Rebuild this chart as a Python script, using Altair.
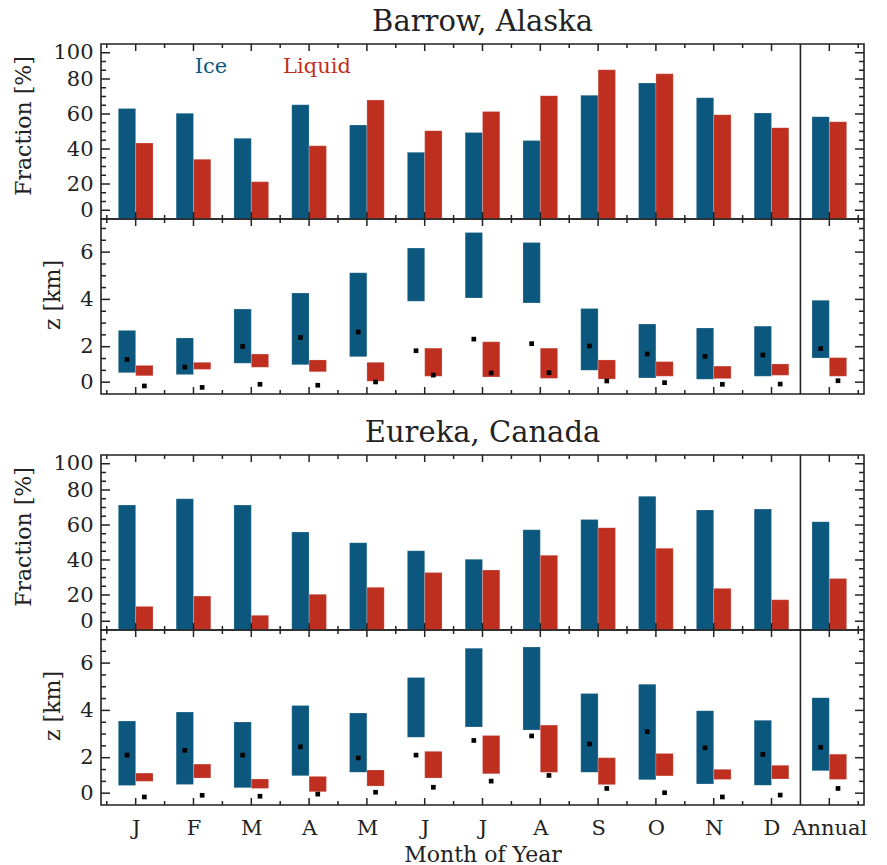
import altair as alt
import pandas as pd

# ---------------- data ----------------
months = ["J", "F", "M", "A", "M", "J", "J", "A", "S", "O", "N", "D", "Annual"]

barrow_ice_frac = [63.2, 60.4, 46.1, 65.3, 53.7, 38.1, 49.5, 44.8, 70.7, 77.7, 69.3, 60.6, 58.5]
barrow_liq_frac = [43.4, 34.1, 21.3, 41.9, 68.0, 50.5, 61.5, 70.5, 85.3, 83.0, 59.6, 52.2, 55.6]
eureka_ice_frac = [71.4, 75.0, 71.4, 56.0, 49.9, 45.3, 40.4, 57.3, 63.2, 76.4, 68.6, 69.1, 61.9]
eureka_liq_frac = [13.5, 19.4, 8.4, 20.4, 24.4, 32.8, 34.3, 42.7, 58.5, 46.7, 23.8, 17.3, 29.5]

barrow_ice_top = [2.69, 2.37, 3.59, 4.27, 5.13, 6.17, 6.83, 6.41, 3.62, 2.96, 2.79, 2.87, 3.96]
barrow_ice_bot = [0.90, 0.82, 1.30, 1.24, 1.58, 3.92, 4.06, 3.85, 1.00, 0.68, 0.62, 0.75, 1.52]
barrow_ice_mark = [1.46, 1.14, 2.01, 2.39, 2.62, 1.83, 2.32, 2.13, 2.03, 1.69, 1.59, 1.65, 1.92]
barrow_liq_top = [1.21, 1.34, 1.69, 1.44, 1.34, 1.94, 2.21, 1.94, 1.44, 1.37, 1.18, 1.27, 1.54]
barrow_liq_bot = [0.77, 1.04, 1.13, 0.94, 0.54, 0.75, 0.72, 0.66, 0.63, 0.75, 0.65, 0.79, 0.75]
barrow_liq_mark = [0.34, 0.28, 0.41, 0.37, 0.51, 0.80, 0.89, 0.90, 0.55, 0.48, 0.41, 0.42, 0.56]

eureka_ice_top = [3.55, 3.93, 3.51, 4.21, 3.89, 5.39, 6.63, 6.68, 4.72, 5.11, 3.99, 3.58, 4.54]
eureka_ice_bot = [0.82, 0.87, 0.73, 1.24, 1.38, 2.86, 3.30, 3.17, 1.38, 1.07, 0.89, 0.83, 1.45]
eureka_ice_mark = [2.11, 2.31, 2.11, 2.46, 1.99, 2.11, 2.73, 2.92, 2.58, 3.10, 2.42, 2.14, 2.44]
eureka_liq_top = [1.35, 1.73, 1.10, 1.21, 1.48, 2.27, 2.94, 3.38, 2.00, 2.18, 1.51, 1.68, 2.15]
eureka_liq_bot = [1.00, 1.14, 0.70, 0.56, 0.80, 1.14, 1.32, 1.38, 0.86, 1.23, 1.08, 1.10, 1.08]
eureka_liq_mark = [0.34, 0.41, 0.37, 0.46, 0.54, 0.75, 1.01, 1.25, 0.70, 0.52, 0.34, 0.42, 0.70]

# axis tick values
x_major = list(range(13))
x_minor = [-0.5, 0.5, 1.5, 2.5, 3.5, 4.5, 5.5, 6.5, 7.5, 8.5, 9.5, 10.5, 12.5]
separator = [11.5]
frac_major = [5, 20, 40, 60, 80, 95]
frac_minor = [10, 15, 25, 30, 35, 45, 50, 55, 65, 70, 75, 85, 90]
z_major = [0.5, 2, 4, 6]
z_minor = [1, 1.5, 2.5, 3, 3.5, 4.5, 5, 5.5, 6.5, 7]

# ---------------- style ----------------
W = 763
H = 175
FONT = "DejaVu Serif"
ICE = "#0b577e"
LIQ = "#bf2f20"
FRAME = "#222222"
TXT = "#222222"

xscale = alt.Scale(domain=[-0.6, 12.6], nice=False, zero=False)
color = alt.Color("phase:N", scale=alt.Scale(domain=["Ice", "Liquid"], range=[ICE, LIQ]), legend=None)

month_expr = "[" + ",".join("'%s'" % m for m in months) + "][datum.value]"


def make_xaxis(bottom):
    if not bottom:
        return None
    return alt.Axis(values=x_major, labelExpr=month_expr, ticks=False, domain=False, grid=False,
                    labelPadding=12, labelFontSize=21, labelFont=FONT, labelColor=TXT,
                    title="Month of Year", titleFont=FONT, titleFontSize=22, titleFontWeight="normal",
                    titleColor=TXT, titlePadding=6)


def tick_layers(yscale, yaxis, xaxis, ymaj, ymin):
    layers = []
    for vals, ln in ((ymaj, 9), (ymin, 5)):
        d = pd.DataFrame({"v": vals})
        base = alt.Chart(d).mark_rule(color=FRAME, strokeWidth=1.5)
        layers.append(base.encode(y=alt.Y("v:Q", scale=yscale, axis=yaxis), x=alt.value(0), x2=alt.value(ln)))
        layers.append(base.encode(y=alt.Y("v:Q", scale=yscale, axis=yaxis), x=alt.value(W - ln), x2=alt.value(W)))
    for vals, ln in ((x_major, 7), (x_minor, 4)):
        d = pd.DataFrame({"v": vals})
        base = alt.Chart(d).mark_rule(color=FRAME, strokeWidth=1.5)
        layers.append(base.encode(x=alt.X("v:Q", scale=xscale, axis=xaxis), y=alt.value(0), y2=alt.value(ln)))
        layers.append(base.encode(x=alt.X("v:Q", scale=xscale, axis=xaxis), y=alt.value(H - ln), y2=alt.value(H)))
    sep = alt.Chart(pd.DataFrame({"v": separator})).mark_rule(color=FRAME, strokeWidth=1.6).encode(
        x=alt.X("v:Q", scale=xscale, axis=xaxis))
    layers.append(sep)
    return layers


def ytitle_layer(text, dx, dy):
    return alt.Chart(pd.DataFrame({"t": [text]})).mark_text(
        font=FONT, fontSize=22, color=TXT, angle=270, align="center", baseline="middle").encode(
        text="t:N", x=alt.value(dx), y=alt.value(dy))


def frac_panel(ice, liq, title, legend=False):
    rows = [{"i": i, "phase": "Ice", "value": v} for i, v in enumerate(ice)] + \
           [{"i": i, "phase": "Liquid", "value": v} for i, v in enumerate(liq)]
    df = pd.DataFrame(rows)
    yscale = alt.Scale(domain=[0, 100], nice=False, zero=False)
    yaxis = alt.Axis(values=frac_major,
                     labelExpr="datum.value == 5 ? '0' : datum.value == 95 ? '100' : format(datum.value, 'd')",
                     ticks=False, domain=False, grid=False, labelPadding=8, labelFontSize=21,
                     labelFont=FONT, labelColor=TXT, title=None)
    xaxis = None
    bars = alt.Chart(df).transform_calculate(
        x0="datum.i + (datum.phase == 'Ice' ? -0.3 : 0)",
        x1="datum.i + (datum.phase == 'Ice' ? 0 : 0.3)",
    ).mark_bar(stroke="white", strokeOpacity=0.35, strokeWidth=0.6).encode(
        x=alt.X("x0:Q", scale=xscale, axis=xaxis),
        x2="x1:Q",
        y=alt.Y("value:Q", scale=yscale, axis=yaxis),
        y2=alt.datum(0),
        color=color,
    )
    layers = [bars] + tick_layers(yscale, yaxis, xaxis, frac_major, frac_minor)
    layers.append(ytitle_layer("Fraction [%]", -77, 82))
    if legend:
        leg = pd.DataFrame({"phase": ["Ice", "Liquid"]})
        layers.append(alt.Chart(leg).transform_filter("datum.phase == 'Ice'").mark_text(
            font=FONT, fontSize=21, color=ICE, baseline="middle").encode(
            text="phase:N", x=alt.value(110), y=alt.value(23)))
        layers.append(alt.Chart(leg).transform_filter("datum.phase == 'Liquid'").mark_text(
            font=FONT, fontSize=21, color=LIQ, baseline="middle").encode(
            text="phase:N", x=alt.value(216), y=alt.value(23)))
    return alt.layer(*layers).properties(
        width=W, height=H,
        title=alt.TitleParams(title, font=FONT, fontSize=29, fontWeight="normal", color=TXT,
                              anchor="middle", offset=5))


def z_panel(itop, ibot, imark, ltop, lbot, lmark, bottom=False):
    rows = []
    for i in range(13):
        rows.append({"i": i, "phase": "Ice", "top": itop[i], "bot": ibot[i], "mark": imark[i]})
        rows.append({"i": i, "phase": "Liquid", "top": ltop[i], "bot": lbot[i], "mark": lmark[i]})
    df = pd.DataFrame(rows)
    yscale = alt.Scale(domain=[0, 7.4], nice=False, zero=False)
    yaxis = alt.Axis(values=z_major,
                     labelExpr="datum.value == 0.5 ? '0' : format(datum.value, 'd')",
                     ticks=False, domain=False, grid=False, labelPadding=8, labelFontSize=21,
                     labelFont=FONT, labelColor=TXT, title=None)
    xaxis = make_xaxis(bottom)
    base = alt.Chart(df).transform_calculate(
        x0="datum.i + (datum.phase == 'Ice' ? -0.3 : 0)",
        x1="datum.i + (datum.phase == 'Ice' ? 0 : 0.3)",
        xm="datum.i + (datum.phase == 'Ice' ? -0.15 : 0.15)",
    )
    bars = base.mark_bar(stroke="white", strokeOpacity=0.35, strokeWidth=0.6).encode(
        x=alt.X("x0:Q", scale=xscale, axis=xaxis),
        x2="x1:Q",
        y=alt.Y("top:Q", scale=yscale, axis=yaxis),
        y2="bot:Q",
        color=color,
    )
    pts = base.mark_point(shape="square", filled=True, size=22, color="black", opacity=1).encode(
        x=alt.X("xm:Q", scale=xscale, axis=xaxis),
        y=alt.Y("mark:Q", scale=yscale, axis=yaxis),
    )
    layers = [bars, pts] + tick_layers(yscale, yaxis, xaxis, z_major, z_minor)
    layers.append(ytitle_layer("z [km]", -48, 76))
    return alt.layer(*layers).properties(width=W, height=H)


f1 = frac_panel(barrow_ice_frac, barrow_liq_frac, "Barrow, Alaska", legend=True)
z1 = z_panel(barrow_ice_top, barrow_ice_bot, barrow_ice_mark, barrow_liq_top, barrow_liq_bot, barrow_liq_mark)
f2 = frac_panel(eureka_ice_frac, eureka_liq_frac, "Eureka, Canada")
z2 = z_panel(eureka_ice_top, eureka_ice_bot, eureka_ice_mark, eureka_liq_top, eureka_liq_bot, eureka_liq_mark,
             bottom=True)

top = alt.vconcat(f1, z1, spacing=0, bounds="flush")
bot = alt.vconcat(f2, z2, spacing=0, bounds="flush")

chart = alt.vconcat(top, bot, spacing=21).properties(
    padding={"left": 12, "top": 6, "right": 5, "bottom": 0},
    background="white",
).configure_view(stroke=FRAME, strokeWidth=1.6)

chart.save("out.html", embed_options={"renderer": "svg", "actions": False})
